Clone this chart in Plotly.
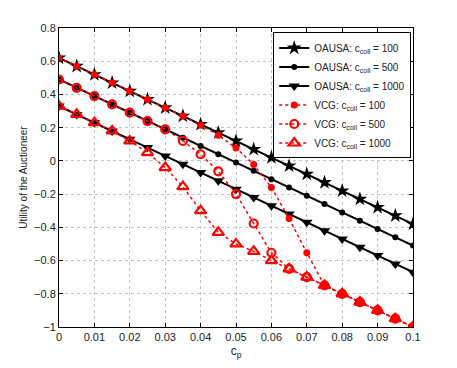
import plotly.graph_objects as go

# cost per unit c_p
cp = [0.0, 0.005, 0.01, 0.015, 0.02, 0.025, 0.03, 0.035, 0.04, 0.045, 0.05,
      0.055, 0.06, 0.065, 0.07, 0.075, 0.08, 0.085, 0.09, 0.095, 0.1]

oausa_100 = [0.62, 0.57, 0.52, 0.47, 0.42, 0.37, 0.32, 0.27, 0.22, 0.17, 0.12,
             0.07, 0.02, -0.03, -0.08, -0.13, -0.18, -0.23, -0.28, -0.33, -0.38]
oausa_500 = [0.49, 0.44, 0.39, 0.34, 0.29, 0.24, 0.19, 0.14, 0.09, 0.04, -0.01,
             -0.06, -0.11, -0.16, -0.21, -0.26, -0.31, -0.36, -0.41, -0.46, -0.51]
oausa_1000 = [0.33, 0.28, 0.23, 0.18, 0.13, 0.08, 0.03, -0.02, -0.07, -0.12, -0.17,
              -0.22, -0.27, -0.32, -0.37, -0.42, -0.47, -0.52, -0.57, -0.62, -0.67]

vcg_100 = [0.62, 0.57, 0.52, 0.47, 0.42, 0.37, 0.32, 0.27, 0.215, 0.155, 0.078,
           -0.022, -0.16, -0.347, -0.553, -0.75, -0.80, -0.85, -0.90, -0.95, -1.0]
vcg_500 = [0.49, 0.44, 0.39, 0.34, 0.29, 0.24, 0.19, 0.12, 0.04, -0.063, -0.20,
           -0.377, -0.553, -0.65, -0.70, -0.75, -0.80, -0.85, -0.90, -0.95, -1.0]
vcg_1000 = [0.33, 0.28, 0.23, 0.18, 0.12, 0.05, -0.04, -0.155, -0.30, -0.43, -0.50,
            -0.545, -0.60, -0.65, -0.70, -0.75, -0.80, -0.85, -0.90, -0.95, -1.0]

x_ticks = [0, 0.01, 0.02, 0.03, 0.04, 0.05, 0.06, 0.07, 0.08, 0.09, 0.1]
x_labels = ["0", "0.01", "0.02", "0.03", "0.04", "0.05", "0.06", "0.07", "0.08", "0.09", "0.1"]
y_ticks = [0.8, 0.6, 0.4, 0.2, 0, -0.2, -0.4, -0.6, -0.8, -1]
y_labels = ["0.8", "0.6", "0.4", "0.2", "0", "\u22120.2", "\u22120.4", "\u22120.6", "\u22120.8", "\u22121"]

series = [
    ("OAUSA: c<sub>coll</sub> = 100", oausa_100, "black", "solid", 2,
     dict(symbol="star", size=11, color="black")),
    ("OAUSA: c<sub>coll</sub> = 500", oausa_500, "black", "solid", 2,
     dict(symbol="circle", size=6, color="black")),
    ("OAUSA: c<sub>coll</sub> = 1000", oausa_1000, "black", "solid", 2,
     dict(symbol="triangle-down", size=10, color="black")),
    ("VCG: c<sub>coll</sub> = 100", vcg_100, "red", "dot", 1.5,
     dict(symbol="circle", size=7, color="red")),
    ("VCG: c<sub>coll</sub> = 500", vcg_500, "red", "dot", 1.5,
     dict(symbol="circle-open", size=8, color="red", line=dict(width=2.2, color="red"))),
    ("VCG: c<sub>coll</sub> = 1000", vcg_1000, "red", "dot", 1.5,
     dict(symbol="triangle-up-open", size=10, color="red", line=dict(width=2.2, color="red"))),
]

fig = go.Figure()
for name, ys, col, dash, w, mk in series:
    fig.add_trace(go.Scatter(
        x=cp, y=ys, name=name, mode="lines+markers",
        line=dict(color=col, dash=dash, width=w),
        marker=mk,
    ))

axis_style = dict(
    showline=True, linecolor="black", linewidth=1, mirror="ticks",
    ticks="inside", ticklen=4, tickcolor="black",
    showgrid=True, gridcolor="#c4c4c4", griddash="dot", gridwidth=1,
    zeroline=False, tickfont=dict(size=11, color="#222"), automargin=False,
)

# page body adds 8px, so the figure is a bit smaller than the window
fig.update_layout(
    width=449, height=360,
    paper_bgcolor="white", plot_bgcolor="white",
    font=dict(family="Liberation Sans, Arial, sans-serif", color="#222"),
    margin=dict(l=51, r=44, t=20, b=41),
    showlegend=True,
    legend=dict(
        x=0.995, y=0.985, xanchor="right", yanchor="top",
        bgcolor="white", bordercolor="black", borderwidth=1,
        font=dict(size=10, color="#222"), itemwidth=30,
        tracegroupgap=0,
    ),
    xaxis=dict(axis_style, range=[0, 0.1], tickvals=x_ticks, ticktext=x_labels,
               title=dict(text="c<sub>p</sub>", font=dict(size=12), standoff=4)),
    yaxis=dict(axis_style, range=[-1, 0.8], tickvals=y_ticks, ticktext=y_labels,
               title=dict(text="Utility of the Auctioneer", font=dict(size=10), standoff=4)),
)

fig.write_html("out.html")
